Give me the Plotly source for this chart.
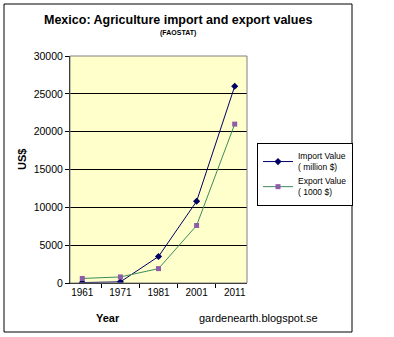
import plotly.graph_objects as go

years = ["1961", "1971", "1981", "2001", "2011"]
import_values = [60, 150, 3500, 10800, 26000]
export_values = [600, 800, 1900, 7600, 21000]

W, H = 394, 337
L, R, T, B = 70, 247, 56, 283

def px(x):
    return (x - L) / (R - L)

def py(y):
    return (B - y) / (B - T)

FONT = "Liberation Sans, Arial, sans-serif"

fig = go.Figure()
fig.add_trace(go.Scatter(
    x=years, y=import_values, mode="lines+markers",
    name="Import Value<br>( million $)",
    line=dict(color="#000066", width=1),
    marker=dict(symbol="diamond", size=5.5, color="#000066"),
))
fig.add_trace(go.Scatter(
    x=years, y=export_values, mode="lines+markers",
    name="Export Value<br>( 1000 $)",
    line=dict(color="#3c8c5c", width=1),
    marker=dict(symbol="square", size=5, color="#8e5ca8"),
))

fig.update_layout(
    width=W, height=H,
    margin=dict(l=L, r=W - R, t=T, b=H - B),
    paper_bgcolor="white",
    plot_bgcolor="#ffffcc",
    font=dict(family=FONT, size=10, color="black"),
    showlegend=True,
    legend=dict(
        x=px(257), y=py(143), xanchor="left", yanchor="top",
        bordercolor="black", borderwidth=1, bgcolor="white",
        font=dict(size=8.5, family=FONT), tracegroupgap=0,
        itemwidth=30,
    ),
    xaxis=dict(
        type="category", showgrid=False, showline=True, linecolor="black",
        ticks="outside", tickson="boundaries", ticklen=4, tickcolor="black",
        tickfont=dict(size=10), mirror=False, zeroline=False,
    ),
    yaxis=dict(
        range=[0, 30000], dtick=5000, tickformat="d", showgrid=True, gridcolor="black", gridwidth=1,
        showline=True, linecolor="black", ticks="outside", ticklen=4, tickcolor="black",
        tickfont=dict(size=10.5), zeroline=False,
    ),
    shapes=[
        dict(type="rect", xref="paper", yref="paper", x0=px(4), x1=px(352), y0=py(332), y1=py(4),
             line=dict(color="black", width=1), layer="below"),
        dict(type="rect", xref="paper", yref="paper", x0=0, x1=1, y0=0, y1=1,
             line=dict(color="#808080", width=1)),
    ],
    annotations=[
        dict(text="<b>Mexico: Agriculture import and export values</b>", xref="paper", yref="paper",
             x=px(178), y=py(20), showarrow=False, font=dict(size=12.5, family=FONT), xanchor="center", yanchor="middle"),
        dict(text="<b>(FAOSTAT)</b>", xref="paper", yref="paper",
             x=px(178), y=py(33), showarrow=False, font=dict(size=7, family=FONT), xanchor="center", yanchor="middle"),
        dict(text="<b>US$</b>", xref="paper", yref="paper", textangle=-90,
             x=px(22), y=py(160), showarrow=False, font=dict(size=11, family=FONT), xanchor="center", yanchor="middle"),
        dict(text="<b>Year</b>", xref="paper", yref="paper",
             x=px(108), y=py(318), showarrow=False, font=dict(size=11, family=FONT), xanchor="center", yanchor="middle"),
        dict(text="gardenearth.blogspot.se", xref="paper", yref="paper",
             x=px(197), y=py(318), showarrow=False, font=dict(size=11, family=FONT), xanchor="left", yanchor="middle"),
    ],
)

fig.write_html("out.html")
